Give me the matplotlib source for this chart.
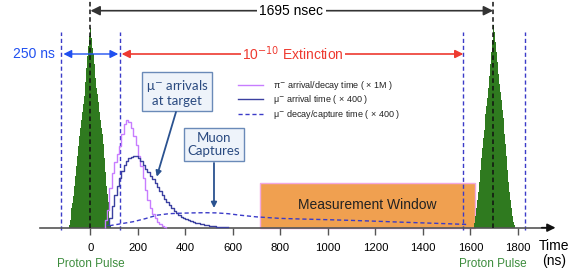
import numpy as np
import matplotlib
matplotlib.use("Agg")
import matplotlib.pyplot as plt

plt.rcParams['font.family'] = ['Liberation Sans', 'DejaVu Sans']

# --- data (time in ns, heights in arbitrary units) ---
bin_w = 4
pulse1_start = -92
pulse1 = [3, 8, 14, 20, 25, 32, 42, 52, 62, 72, 82, 92, 100, 108, 116, 124, 132, 146,
          160, 172, 182, 192, 207, 200, 190, 180, 174, 164, 150, 140, 134, 126, 116, 108,
          100, 94, 84, 70, 56, 42, 34, 26, 16, 8, 3]
pulse2_start = 1695 - 80
pulse2 = [5, 12, 20, 28, 36, 46, 58, 70, 80, 90, 98, 106, 114, 122, 130, 140, 152, 164,
          176, 188, 203, 196, 186, 176, 166, 154, 144, 136, 128, 118, 110, 102, 94, 84,
          72, 58, 46, 36, 28, 20, 12, 6, 3]

hist_w = 10
pion_start = 60
pion = [8, 18, 40, 55, 66, 74, 82, 94, 104, 108, 106, 100, 92, 83, 72, 62, 50, 38,
        28, 20, 14, 10, 6, 4, 2, 1]
muon_start = 70
muon = [3, 10, 22, 33, 42, 50, 57, 63, 67, 70, 71, 72, 72, 70, 67, 63, 59, 56, 52, 49,
        45, 41, 37, 33, 29, 26, 23, 20, 17, 15, 13, 11, 10, 9, 8, 7, 6, 5, 4.5, 4, 3.5,
        3, 2.5, 2, 2, 1.5, 1.2, 1, 0.8, 0.6, 0.4, 0.3]
capture_t = [80, 130, 180, 230, 280, 330, 380, 430, 480, 530, 580, 630, 700, 800, 900,
             1000, 1100, 1200, 1300, 1400, 1500, 1590]
capture = [2, 4, 6, 9, 12.5, 14, 14.5, 14.8, 15, 14.8, 14, 12.5, 10.8, 9.3, 8.6, 8,
           7.3, 6.5, 5.6, 4.8, 4, 3.2]

pulse_centers = [0, 1695]
window_edges = [125, 1570, 1830]
window_lo = -124
meas_start, meas_end, meas_height = 715, 1619, 45
ticks = [0, 200, 400, 600, 800, 1000, 1200, 1400, 1600, 1800]

green = '#2F7A1F'
violet = '#C77DFF'
navy = '#3B40A0'
dblue = '#3B3BC8'

fig = plt.figure(figsize=(5.75, 2.73), dpi=100)
ax = fig.add_axes([0, 0, 1, 1])
ax.set_xlim(-381, 2040)
ax.set_ylim(-45.3, 227.7)

# proton pulses
e1 = pulse1_start + bin_w * np.arange(len(pulse1) + 1)
e2 = pulse2_start + bin_w * np.arange(len(pulse2) + 1)
ax.stairs(pulse1, e1, fill=True, color=green, lw=0, zorder=2)
ax.stairs(pulse2, e2, fill=True, color=green, lw=0, zorder=2)

# measurement window
ax.bar(meas_start, meas_height, width=meas_end - meas_start, align='edge',
       color='#F0A050', edgecolor='#F2A8E0', lw=1, zorder=1)
ax.text((meas_start + meas_end) / 2, 22.7, 'Measurement Window', ha='center',
        va='center', fontsize=10, color='#222222', zorder=3)

# muon / pion distributions
ep = pion_start + hist_w * np.arange(len(pion) + 1)
em = muon_start + hist_w * np.arange(len(muon) + 1)
h_pi = ax.stairs(pion, ep, color=violet, lw=1, zorder=3,
                 label='π$^{-}$ arrival/decay time ( × 1M )')
h_mu, = ax.step(em[:-1], muon, where='post', color=navy, lw=1, zorder=3,
                label='μ$^{-}$ arrival time ( × 400 )')
h_cap, = ax.plot(capture_t, capture, color=dblue, lw=1, ls=(0, (3, 2)), zorder=4,
                 label='μ$^{-}$ decay/capture time ( × 400 )')

# dashed markers
for c in pulse_centers:
    ax.vlines(c, 0, 227.7, colors='#111111', lw=1.1, linestyles=(0, (3, 2)), zorder=5)
for c in [window_lo] + window_edges:
    ax.vlines(c, -2.5, 196, colors=dblue, lw=1, linestyles=(0, (3, 2)), zorder=1)

# time axis
for s in ['top', 'left', 'right']:
    ax.spines[s].set_visible(False)
ax.spines['bottom'].set_position(('data', 0))
ax.spines['bottom'].set_bounds(-213, 1945)
ax.spines['bottom'].set_color('#555555')
ax.spines['bottom'].set_linewidth(1.2)
ax.set_yticks([])
ax.set_xticks(ticks)
ax.set_xticklabels([str(t) for t in ticks], fontsize=8.2)
ax.tick_params(axis='x', direction='out', length=5, width=1, color='#555555', pad=6)
ax.annotate('', xy=(1958, 0), xytext=(1900, 0),
            arrowprops=dict(arrowstyle='-|>', color='#111111', lw=1.2,
                            mutation_scale=12, shrinkA=0, shrinkB=0))
ax.text(1951, -18, 'Time', ha='center', va='center', fontsize=10)
ax.text(1951, -33, '(ns)', ha='center', va='center', fontsize=10)
for c in pulse_centers:
    ax.text(c, -36.3, 'Proton Pulse', ha='center', va='center', fontsize=8.5,
            color='#3C8C3C')

# top arrows
ax.annotate('', xy=(0, 217), xytext=(1695, 217),
            arrowprops=dict(arrowstyle='<|-|>', color='#333333', lw=1.2,
                            mutation_scale=14, shrinkA=0, shrinkB=0))
ax.text(846, 217, '1695 nsec', ha='center', va='center', fontsize=10,
        bbox=dict(fc='white', ec='none', pad=2))
ax.annotate('', xy=(-114, 173.7), xytext=(117, 173.7),
            arrowprops=dict(arrowstyle='<|-|>', color='#2050F0', lw=1,
                            mutation_scale=12, shrinkA=0, shrinkB=0))
ax.text(-238, 173.7, '250 ns', ha='center', va='center', fontsize=10, color='#2050F0')
ax.annotate('', xy=(131, 173.7), xytext=(1570, 173.7),
            arrowprops=dict(arrowstyle='<|-|>', color='#EE3A30', lw=1.2,
                            mutation_scale=12, shrinkA=0, shrinkB=0))
ax.text(852, 173.7, '10$^{-10}$ Extinction', ha='center', va='center', fontsize=10,
        color='#EE3A30', bbox=dict(fc='white', ec='none', pad=1))

# legend
ax.legend(handles=[h_pi, h_mu, h_cap], loc='upper left', bbox_to_anchor=(0.4, 0.74),
          frameon=False, fontsize=6.5, handlelength=2.8, labelspacing=0.15,
          handletextpad=1.1, labelcolor='#222222')

# callouts
box = dict(boxstyle='square,pad=0.3', fc='#EEF3FA', ec='#6A8AB8', lw=1)
ax.text(364, 135, 'μ$^{-}$ arrivals\nat target', ha='center', va='center', fontsize=9.5,
        color='#2A4A80', family=['Lato', 'DejaVu Sans'], linespacing=1.15, bbox=box,
        zorder=6)
ax.annotate('', xy=(279, 51), xytext=(360, 115.7),
            arrowprops=dict(arrowstyle='-|>', color='#2A5290', lw=1.3,
                            mutation_scale=8, shrinkA=0, shrinkB=0), zorder=6)
ax.text(520, 83, 'Muon\nCaptures', ha='center', va='center', fontsize=9.5,
        color='#2A4A80', family=['Lato', 'DejaVu Sans'], linespacing=1.15, bbox=box,
        zorder=6)
ax.annotate('', xy=(520, 19.7), xytext=(520, 64.7),
            arrowprops=dict(arrowstyle='-|>', color='#2A5290', lw=1.3,
                            mutation_scale=8, shrinkA=0, shrinkB=0), zorder=6)

fig.savefig('out.png', dpi=100)
